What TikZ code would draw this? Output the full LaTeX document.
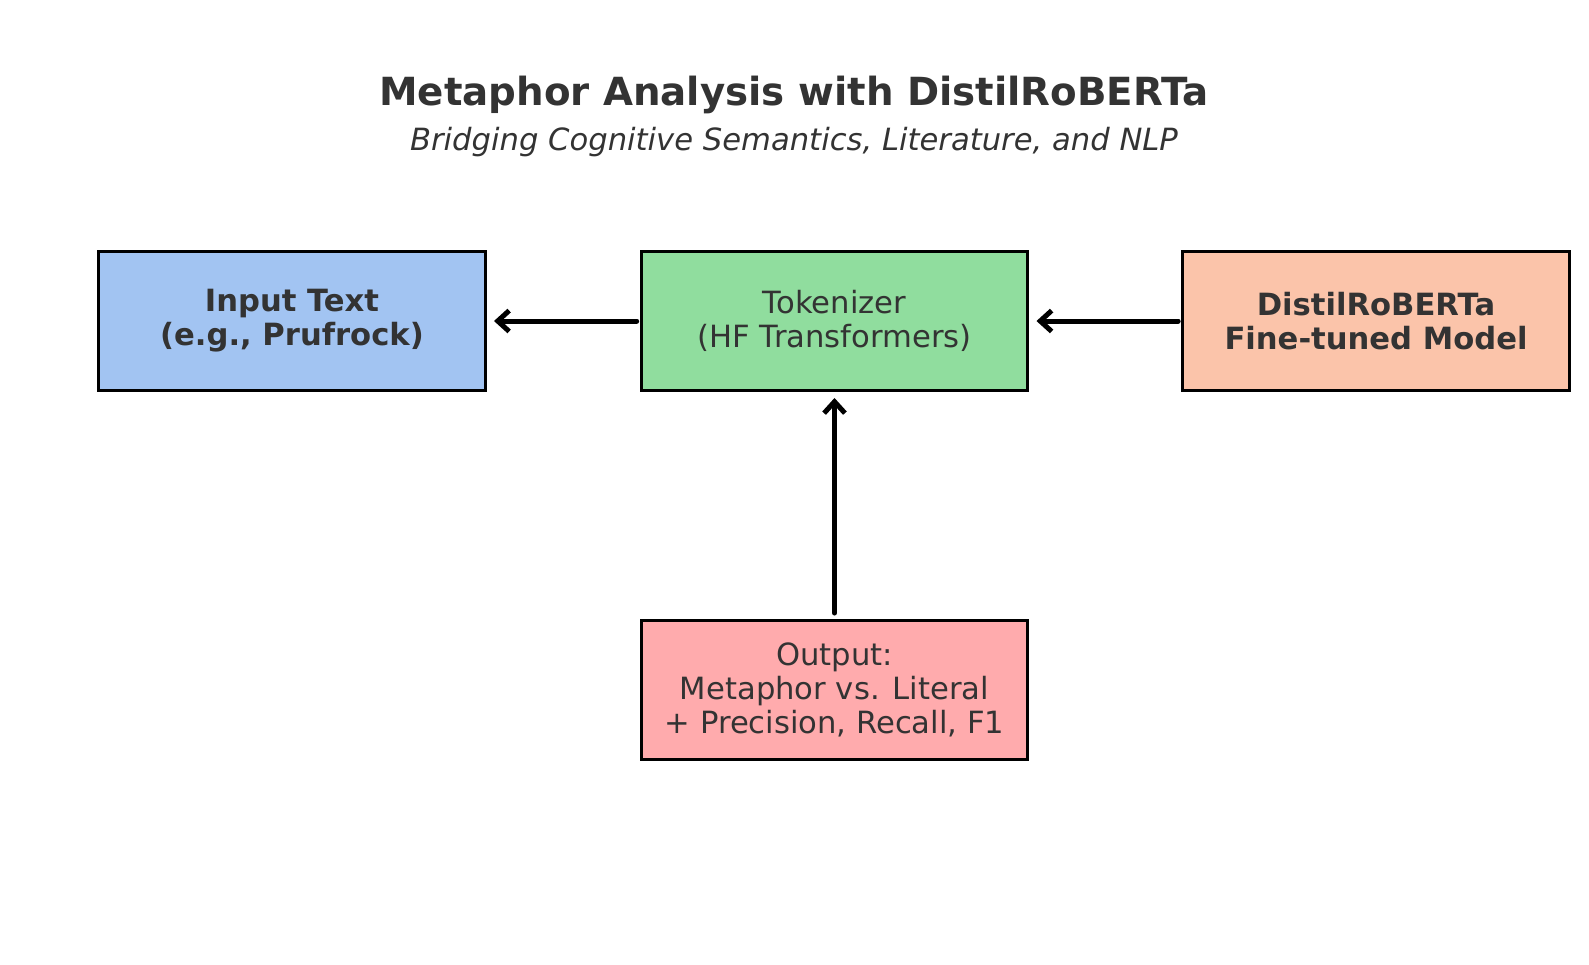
\documentclass[tikz,border=0pt]{standalone}
\usepackage{fontspec}
\setmainfont{DejaVu Sans}
\usepackage{xcolor}
\usepackage{tikz}
\usetikzlibrary{shapes.geometric, arrows, arrows.meta, positioning}

\definecolor{txtgray}{HTML}{333333}
\definecolor{inblue}{HTML}{A2C4F2}
\definecolor{tokgreen}{HTML}{90DD9E}
\definecolor{modorange}{HTML}{FBC4AA}
\definecolor{outred}{HTML}{FFABAD}

\begin{document}
\begin{tikzpicture}[x=0.48pt,y=-0.48pt]
				\tikzset{stage/.style = {draw=black, line width=1.3pt, minimum width=185.6pt, minimum height=66.6pt, inner sep=0pt, align=center, text=txtgray, font=\fontsize{14.7}{16.4}\selectfont}}
				\tikzset{boldstage/.style = {stage, font=\bfseries\fontsize{14.7}{16.4}\selectfont}}
				\tikzset{flow/.style = {-{Straight Barb[length=5.5pt,width=10pt]}, line width=2.4pt, line cap=round}}
				\useasboundingbox (0,0) rectangle (1589,964);
				
				\node[text=txtgray, font=\bfseries\fontsize{18.6}{22}\selectfont] (title) at (794,95) {Metaphor Analysis with DistilRoBERTa};
				\node[text=txtgray, font=\itshape\fontsize{14.7}{17}\selectfont] (subtitle) at (794,142) {Bridging Cognitive Semantics, Literature, and NLP};
				
				\node[boldstage, fill=inblue] (input) at (292,321) {Input Text\\(e.g., Prufrock)};
				\node[stage, fill=tokgreen] (tok) at (834.5,321) {Tokenizer\\(HF Transformers)};
				\node[boldstage, fill=modorange] (model) at (1376,321) {DistilRoBERTa\\Fine-tuned Model};
				\node[stage, fill=outred] (output) at (834.5,690) {Output:\\Metaphor vs. Literal\\+ Precision, Recall, F1};
				
				%%%%%%%%%%%%%%%%%%%%%%%%%%%%%%
				
				\draw[flow, shorten <=1.5pt, shorten >=3.5pt] (tok.west) -- (input.east);
				\draw[flow, shorten <=1.5pt, shorten >=3.5pt] (model.west) -- (tok.east);
				\draw[flow, shorten <=3pt, shorten >=3pt] (output.north) -- (tok.south);
				
\end{tikzpicture}
\end{document}
